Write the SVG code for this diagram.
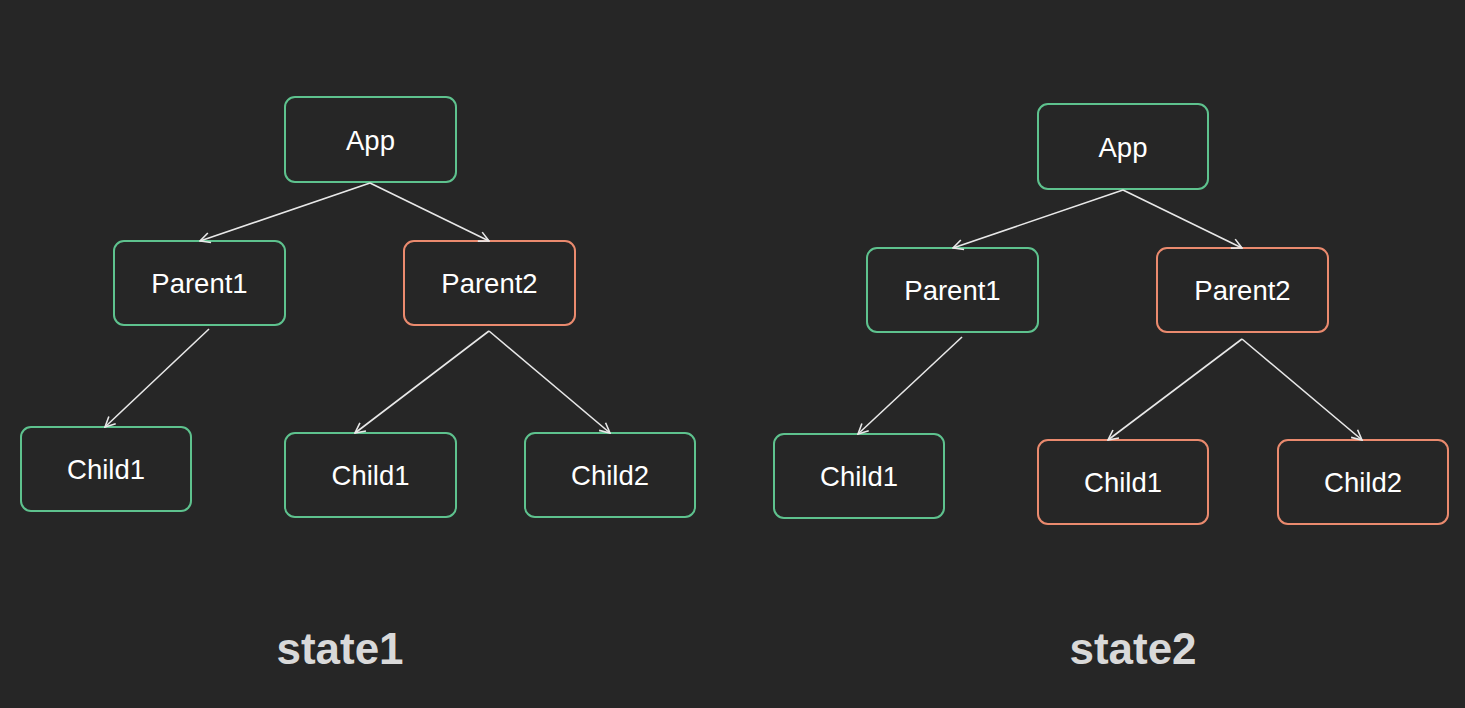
<svg xmlns="http://www.w3.org/2000/svg" width="1465" height="708" viewBox="0 0 1465 708">
<style>
.bg{fill:#262626}
.g rect{fill:#262626;stroke-width:2}
.ok rect{stroke:#5ec28e}
.ch rect{stroke:#ea8a6e}
.g text{font-family:"Liberation Sans",Arial,sans-serif;font-size:27.5px;fill:#ffffff;text-anchor:middle}
.lbl{font-family:"Liberation Sans",Arial,sans-serif;font-size:44px;font-weight:bold;fill:#d9d9d9;text-anchor:middle}
.edges line{stroke:#e8e8e8;stroke-width:1.6;marker-end:url(#arr)}
</style>
<defs>
<marker id="arr" viewBox="0 0 12 12" refX="11" refY="6" markerWidth="12" markerHeight="12" markerUnits="userSpaceOnUse" orient="auto">
<path d="M1,1 L11,6 L1,11" fill="none" stroke="#e8e8e8" stroke-width="1.6"/>
</marker>
</defs>
<rect class="bg" x="0" y="0" width="1465" height="708"/>

<g id="s1-app" class="g ok"><rect x="285" y="97" width="171" height="85" rx="10"/><text x="370.5" y="150">App</text></g>
<g id="s1-parent1" class="g ok"><rect x="114" y="241" width="171" height="84" rx="10"/><text x="199.5" y="293">Parent1</text></g>
<g id="s1-parent2" class="g ch"><rect x="404" y="241" width="171" height="84" rx="10"/><text x="489.5" y="293">Parent2</text></g>
<g id="s1-child1a" class="g ok"><rect x="21" y="427" width="170" height="84" rx="10"/><text x="106" y="479">Child1</text></g>
<g id="s1-child1b" class="g ok"><rect x="285" y="433" width="171" height="84" rx="10"/><text x="370.5" y="485">Child1</text></g>
<g id="s1-child2" class="g ok"><rect x="525" y="433" width="170" height="84" rx="10"/><text x="610" y="485">Child2</text></g>

<g id="s2-app" class="g ok"><rect x="1038" y="104" width="170" height="85" rx="10"/><text x="1123" y="157">App</text></g>
<g id="s2-parent1" class="g ok"><rect x="867" y="248" width="171" height="84" rx="10"/><text x="952.5" y="300">Parent1</text></g>
<g id="s2-parent2" class="g ch"><rect x="1157" y="248" width="171" height="84" rx="10"/><text x="1242.5" y="300">Parent2</text></g>
<g id="s2-child1a" class="g ok"><rect x="774" y="434" width="170" height="84" rx="10"/><text x="859" y="486">Child1</text></g>
<g id="s2-child1b" class="g ch"><rect x="1038" y="440" width="170" height="84" rx="10"/><text x="1123" y="492">Child1</text></g>
<g id="s2-child2" class="g ch"><rect x="1278" y="440" width="170" height="84" rx="10"/><text x="1363" y="492">Child2</text></g>

<g id="connectors" class="edges">
<line x1="370" y1="183" x2="200" y2="241"/>
<line x1="370" y1="183" x2="489" y2="241"/>
<line x1="209" y1="329" x2="105" y2="427"/>
<line x1="489" y1="331" x2="355" y2="433"/>
<line x1="489" y1="331" x2="610" y2="433"/>
<line x1="1123" y1="190" x2="953" y2="248"/>
<line x1="1123" y1="190" x2="1242" y2="248"/>
<line x1="962" y1="337" x2="858" y2="434"/>
<line x1="1242" y1="339" x2="1108" y2="440"/>
<line x1="1242" y1="339" x2="1362" y2="440"/>
</g>

<text id="label-state1" class="lbl" x="340" y="664">state1</text>
<text id="label-state2" class="lbl" x="1133" y="664">state2</text>
</svg>
